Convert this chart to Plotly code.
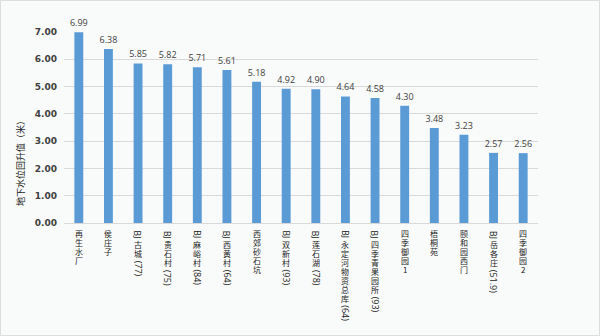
import re
import plotly.graph_objects as go

# Groundwater level rise by monitoring site (metres)
sites = [
    "再生水厂", "侯庄子", "BJ古城（77）", "BJ贵石村（75）", "BJ麻峪村（84）",
    "BJ西黄村（64）", "西郊砂石坑", "BJ双新村（93）", "BJ莲石湖（78）",
    "BJ永定河物资总库（64）", "BJ四季青果园所（93）", "四季御园1", "梧桐苑",
    "颐和园西门", "BJ岳各庄（51.9）", "四季御园2",
]
rise = [6.99, 6.38, 5.85, 5.82, 5.71, 5.61, 5.18, 4.92, 4.90,
        4.64, 4.58, 4.30, 3.48, 3.23, 2.57, 2.56]
y_ticks = [0, 1, 2, 3, 4, 5, 6, 7]
y_title = "地下水位回升值（米）"

W, H = 600, 336
ML, MR, MT, MB = 64, 62, 32, 113
BAR = "#5b9bd5"
TXT = "#404040"
CJK = "Noto Sans CJK SC"

fig = go.Figure(go.Bar(
    x=sites, y=rise, marker_color=BAR, marker_line_width=0,
    texttemplate="%{y:.2f}", textposition="outside", constraintext="none",
    textfont=dict(family="Open Sans", size=9, color=TXT),
    cliponaxis=False,
))

# Vertical category labels: CJK characters stacked upright,
# Latin runs and bracketed codes turned 90 degrees.
FS = 9
CJK_FS = 8
PITCH = 9.0
CHAR_W = {".": 0.28, "(": 0.3, ")": 0.3, "B": 0.64, "J": 0.45}


def run_len(s):
    return sum(CHAR_W.get(c, 0.52) for c in s) * FS


def segments(label):
    out = []
    for m in re.finditer(r"（[^）]*）|[A-Za-z]+|[0-9.]+|.", label):
        s = m.group(0)
        if s.startswith("（"):
            out.append(("rot", "(" + s[1:-1] + ")", 3.0))
        elif re.fullmatch(r"[A-Za-z]+", s):
            out.append(("rot", s, 0.0))
        else:
            out.append(("up", s, 0.0))
    return out


annotations = []
for site in sites:
    pos = 6.0
    for kind, s, gap in segments(site):
        pos += gap
        ann = dict(
            x=site, xref="x", y=0, yref="paper",
            text=s, showarrow=False,
            xanchor="center", yanchor="middle", borderpad=0,
        )
        if kind == "up":
            length = PITCH
            ann.update(textangle=0, height=PITCH,
                       font=dict(family=CJK, size=CJK_FS, color="#1a1a1a"))
        else:
            length = run_len(s) + 1
            ann.update(textangle=90,
                       font=dict(family="Open Sans", size=FS, color="#1a1a1a"))
        ann["yshift"] = -(pos + length / 2)
        annotations.append(ann)
        pos += length

plot_w = W - ML - MR
plot_h = H - MT - MB
annotations.append(dict(
    text=y_title, textangle=-90, showarrow=False,
    xref="paper", x=0, xshift=-44, xanchor="center",
    yref="paper", y=(H - MB - 161) / plot_h, yanchor="middle",
    font=dict(family=CJK, size=9, color="#1a1a1a"),
))

fig.update_layout(
    width=W, height=H,
    margin=dict(l=ML, r=MR, t=MT, b=MB, pad=0),
    paper_bgcolor="#f9fafa", plot_bgcolor="#f9fafa",
    bargap=0.70, showlegend=False,
    annotations=annotations,
    shapes=[dict(
        type="rect", xref="paper", yref="paper",
        x0=-ML / plot_w + 0.0008, x1=1 + MR / plot_w - 0.0008,
        y0=-MB / plot_h + 0.002, y1=1 + MT / plot_h - 0.002,
        line=dict(color="#d9d9d9", width=1), fillcolor="rgba(0,0,0,0)",
        layer="below",
    )],
    xaxis=dict(
        showticklabels=False, showgrid=False, zeroline=False,
        showline=True, linecolor="#d9d9d9", linewidth=1, ticks="",
    ),
    yaxis=dict(
        range=[0, 7], tickvals=y_ticks,
        ticktext=[f"<b>{v:.2f}</b>" for v in y_ticks],
        tickfont=dict(family="DejaVu Sans", size=9, color=TXT),
        showgrid=True, gridcolor="#d9d9d9", gridwidth=1,
        zeroline=False, showline=False, ticks="", ticklabelstandoff=6,
    ),
)

fig.write_html("out.html")
